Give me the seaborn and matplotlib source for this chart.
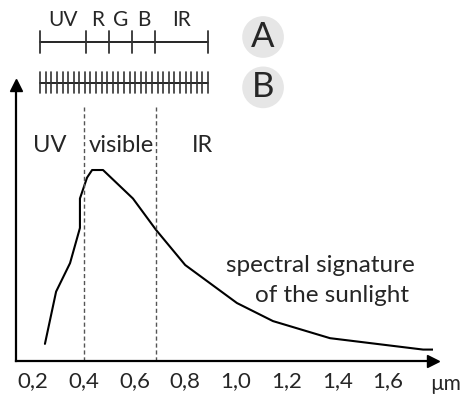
"""
Solar spectrum sketch: sunlight spectral signature with band diagrams.
"""
import numpy as np
import pandas as pd
import matplotlib
matplotlib.use("Agg")
import matplotlib.pyplot as plt
import seaborn as sns

# spectral signature of the sunlight (wavelength in um, relative intensity)
wavelength = [0.247, 0.291, 0.346, 0.385, 0.385, 0.413, 0.433, 0.476,
              0.594, 0.685, 0.80, 1.004, 1.146, 1.371, 1.738, 1.777]
intensity = [0.18, 0.73, 1.03, 1.40, 1.71, 1.93, 2.01, 2.01,
             1.71, 1.38, 1.01, 0.61, 0.42, 0.24, 0.12, 0.12]

# visible band limits
visible_edges = [0.40, 0.685]

# sensor A: few broad bands
band_edges_a = [0.228, 0.409, 0.50, 0.59, 0.68, 0.89]
band_labels_a = ["UV", "R", "G", "B", "IR"]

# sensor B: many narrow bands
n_bands_b = 30

x_ticks = [0.2, 0.4, 0.6, 0.8, 1.0, 1.2, 1.4, 1.6]
x_tick_labels = ["0,2", "0,4", "0,6", "0,8", "1,0", "1,2", "1,4", "1,6"]
region_labels = ["UV", "visible", "IR"]

sns.set_style("white")
plt.rcParams["font.family"] = ["Lato", "DejaVu Sans"]

fig = plt.figure(figsize=(4.63, 3.94), dpi=100)
ax = fig.add_axes([0.0346, 0.0838, 0.9006, 0.7005])
ax.set_xlim(0.133, 1.777)
ax.set_ylim(0, 2.905)

df = pd.DataFrame({"wl": wavelength, "I": intensity})
sns.lineplot(data=df, x="wl", y="I", ax=ax, color="black", lw=1.5,
             estimator=None, sort=False)

# dashed visible limits
for xv in visible_edges:
    ax.plot([xv, xv], [0, 2.67], ls=(0, (3, 2)), color="#555555", lw=1, clip_on=False)

# axes look
sns.despine(ax=ax)
for s in ["left", "bottom"]:
    ax.spines[s].set_linewidth(1.6)
    ax.spines[s].set_color("black")
ax.set_yticks([])
ax.set_xticks(x_ticks)
ax.set_xticklabels(x_tick_labels, fontsize=16)
ax.tick_params(axis="x", direction="out", length=5, width=1, pad=2, color="black")
ax.set_xlabel("")
ax.set_ylabel("")
ax.plot(1, 0, ">", color="black", ms=9, transform=ax.transAxes, clip_on=False)
ax.plot(0, 1, "^", color="black", ms=9, transform=ax.transAxes, clip_on=False)
ax.text(1.825, -0.24, "\u00b5m", fontsize=15, ha="center", va="center", clip_on=False)

# region labels
for lbl, xv in zip(region_labels, [0.267, 0.547, 0.87]):
    ax.text(xv, 2.27, lbl, fontsize=17, ha="center", va="center")

ax.text(1.332, 1.01, "spectral signature", fontsize=17.5, ha="center", va="center")
ax.text(1.379, 0.69, "of the sunlight", fontsize=17.5, ha="center", va="center")

# band diagram A
ya = 3.36
ax.plot([band_edges_a[0], band_edges_a[-1]], [ya, ya], color="black", lw=1.2, clip_on=False)
for xe in band_edges_a:
    ax.plot([xe, xe], [ya - 0.12, ya + 0.11], color="#333333", lw=1.3, clip_on=False)
for i, lbl in enumerate(band_labels_a):
    xc = (band_edges_a[i] + band_edges_a[i + 1]) / 2
    ax.text(xc, ya + 0.12, lbl, fontsize=15, ha="center", va="bottom", clip_on=False)

# band diagram B
yb = 2.93
edges_b = np.linspace(band_edges_a[0], band_edges_a[-1], n_bands_b + 1)
ax.plot([edges_b[0], edges_b[-1]], [yb, yb], color="black", lw=1.2, clip_on=False)
for xe in edges_b:
    ax.plot([xe, xe], [yb - 0.11, yb + 0.11], color="#333333", lw=1.2, clip_on=False)

# circled labels
for lbl, yc in zip(["A", "B"], [3.41, 2.88]):
    ax.scatter([1.107], [yc], s=900, color="#e6e6e6", edgecolor="none", clip_on=False, zorder=3)
    ax.text(1.107, yc, lbl, fontsize=25, ha="center", va="center", zorder=4, clip_on=False)

fig.savefig("out.png", dpi=100)
